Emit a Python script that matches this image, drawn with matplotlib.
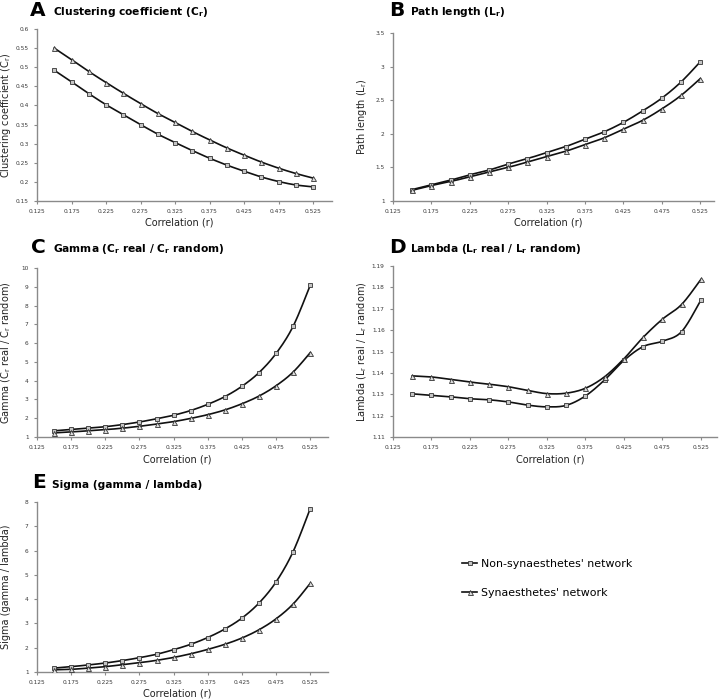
import numpy as np
import matplotlib
matplotlib.use("Agg")
import matplotlib.pyplot as plt
from matplotlib.lines import Line2D

# ---------------- data ----------------
correlation = [0.15, 0.175, 0.2, 0.225, 0.25, 0.275, 0.3, 0.325, 0.35, 0.375,
               0.4, 0.425, 0.45, 0.475, 0.5, 0.525]
tick_labels = ["0.125", "0.175", "0.225", "0.275", "0.325", "0.375", "0.425", "0.475", "0.525"]

clust_non = [0.492, 0.462, 0.431, 0.402, 0.376, 0.350, 0.325, 0.303, 0.282, 0.262,
             0.244, 0.228, 0.213, 0.201, 0.192, 0.187]
clust_syn = [0.550, 0.520, 0.489, 0.460, 0.432, 0.405, 0.379, 0.356, 0.332, 0.310,
             0.289, 0.270, 0.252, 0.236, 0.222, 0.210]

path_non = [1.17, 1.24, 1.31, 1.39, 1.46, 1.55, 1.63, 1.72, 1.81, 1.92,
            2.03, 2.17, 2.34, 2.53, 2.77, 3.07]
path_syn = [1.16, 1.23, 1.29, 1.36, 1.43, 1.50, 1.58, 1.66, 1.74, 1.84,
            1.94, 2.07, 2.20, 2.37, 2.57, 2.82]

gamma_non = [1.33, 1.40, 1.47, 1.55, 1.66, 1.80, 1.97, 2.16, 2.41, 2.74,
             3.15, 3.70, 4.43, 5.45, 6.90, 9.08]
gamma_syn = [1.22, 1.27, 1.33, 1.39, 1.47, 1.57, 1.69, 1.82, 1.99, 2.19,
             2.44, 2.77, 3.18, 3.73, 4.46, 5.49]

lambda_non = [1.1302, 1.1295, 1.1288, 1.1279, 1.1274, 1.1264, 1.1249, 1.1241, 1.1248, 1.1292,
              1.1367, 1.1458, 1.1523, 1.1548, 1.1593, 1.1740]
lambda_syn = [1.1386, 1.1381, 1.1369, 1.1357, 1.1347, 1.1335, 1.1318, 1.1303, 1.1305, 1.1328,
              1.1382, 1.1466, 1.1566, 1.1651, 1.1720, 1.1837]

sigma_non = [1.16, 1.22, 1.29, 1.37, 1.47, 1.59, 1.73, 1.92, 2.14, 2.42,
             2.77, 3.22, 3.84, 4.71, 5.96, 7.73]
sigma_syn = [1.09, 1.11, 1.16, 1.22, 1.30, 1.38, 1.48, 1.60, 1.75, 1.93,
             2.14, 2.40, 2.74, 3.19, 3.80, 4.65]

labels = ["Non-synaesthetes' network", "Synaesthetes' network"]

# ---------------- helpers ----------------
def smooth(x, y, n=24):
    """Excel-like smoothed line (Catmull-Rom Bezier) through the data points."""
    pts = np.column_stack([x, y]).astype(float)
    P = np.vstack([pts[0], pts, pts[-1]])
    out = []
    t = np.linspace(0, 1, n)[:, None]
    for i in range(len(pts) - 1):
        p0, p1, p2, p3 = P[i], P[i + 1], P[i + 2], P[i + 3]
        c1 = p1 + (p2 - p0) / 6.0
        c2 = p2 - (p3 - p1) / 6.0
        seg = ((1 - t) ** 3) * p1 + 3 * ((1 - t) ** 2) * t * c1 + 3 * (1 - t) * t ** 2 * c2 + t ** 3 * p2
        out.append(seg if i == 0 else seg[1:])
    s = np.vstack(out)
    return s[:, 0], s[:, 1]

W, H = 720, 700
fig = plt.figure(figsize=(W / 100, H / 100), dpi=100)

LINE = "#111111"
SPINE = "#8a8a8a"
SQ_FC, TR_FC = "#c4c4c4", "#dddddd"
SQ_MS, TR_MS = 3.4, 3.6

def draw(ax, non, syn):
    for ys, mk, fc, ms in [(non, "s", SQ_FC, SQ_MS), (syn, "^", TR_FC, TR_MS)]:
        sx, sy = smooth(correlation, ys)
        ax.plot(sx, sy, color=LINE, lw=1.2, zorder=2)
        ax.plot(correlation, ys, linestyle="none", marker=mk, ms=ms, mfc=fc,
                mec="#333333", mew=0.6, zorder=3)

panels = [
    dict(box=(37, 332, 29, 201), xmax=0.5525, ylim=(0.15, 0.6),
         yticks=[0.15, 0.2, 0.25, 0.3, 0.35, 0.4, 0.45, 0.5, 0.55, 0.6],
         ylabs=["0.15", "0.2", "0.25", "0.3", "0.35", "0.4", "0.45", "0.5", "0.55", "0.6"],
         data=(clust_non, clust_syn), letter="A",
         title=r"Clustering coefficient (C$_\mathbf{r}$)",
         ylabel=r"Clustering coefficient (C$_\mathregular{r}$)",
         letter_xy=(30, 16), title_xy=(53, 15), xlab_y=223, ylab_x=6),
    dict(box=(393, 714, 33, 201), xmax=0.543, ylim=(1, 3.5),
         yticks=[1, 1.5, 2, 2.5, 3, 3.5],
         ylabs=["1", "1.5", "2", "2.5", "3", "3.5"],
         data=(path_non, path_syn), letter="B",
         title=r"Path length (L$_\mathbf{r}$)",
         ylabel=r"Path length (L$_\mathregular{r}$)",
         letter_xy=(389, 16), title_xy=(410, 15), xlab_y=223, ylab_x=362),
    dict(box=(37, 328, 268, 437), xmax=0.551, ylim=(1, 10),
         yticks=list(range(1, 11)), ylabs=[str(v) for v in range(1, 11)],
         data=(gamma_non, gamma_syn), letter="C",
         title=r"Gamma (C$_\mathbf{r}$ real / C$_\mathbf{r}$ random)",
         ylabel=r"Gamma (C$_\mathregular{r}$ real / C$_\mathregular{r}$ random)",
         letter_xy=(31, 253), title_xy=(53, 252), xlab_y=459, ylab_x=6),
    dict(box=(393, 717, 266, 437), xmax=0.546, ylim=(1.11, 1.19),
         yticks=[1.11, 1.12, 1.13, 1.14, 1.15, 1.16, 1.17, 1.18, 1.19],
         ylabs=["1.11", "1.12", "1.13", "1.14", "1.15", "1.16", "1.17", "1.18", "1.19"],
         data=(lambda_non, lambda_syn), letter="D",
         title=r"Lambda (L$_\mathbf{r}$ real / L$_\mathbf{r}$ random)",
         ylabel=r"Lambda (L$_\mathregular{r}$ real / L$_\mathregular{r}$ random)",
         letter_xy=(389, 253), title_xy=(410, 252), xlab_y=459, ylab_x=362),
    dict(box=(37, 328, 502, 672), xmax=0.551, ylim=(1, 8),
         yticks=list(range(1, 9)), ylabs=[str(v) for v in range(1, 9)],
         data=(sigma_non, sigma_syn), letter="E",
         title="Sigma (gamma / lambda)",
         ylabel="Sigma (gamma / lambda)",
         letter_xy=(32, 488), title_xy=(52, 488), xlab_y=694, ylab_x=6),
]

xticks = [float(v) for v in tick_labels]

for p in panels:
    l, r, t, b = p["box"]
    ax = fig.add_axes([l / W, 1 - b / H, (r - l) / W, (b - t) / H])
    draw(ax, *p["data"])
    ax.set_xlim(0.125, p["xmax"])
    ax.set_ylim(*p["ylim"])
    ax.set_xticks(xticks)
    ax.set_xticklabels(tick_labels)
    ax.set_yticks(p["yticks"])
    ax.set_yticklabels(p["ylabs"])
    for s in ["top", "right"]:
        ax.spines[s].set_visible(False)
    for s in ["left", "bottom"]:
        ax.spines[s].set_color(SPINE)
        ax.spines[s].set_linewidth(1.0)
    ax.tick_params(axis="both", direction="out", length=2.5, width=0.8, color=SPINE,
                   labelsize=4.2, labelcolor="#3a3a3a", pad=3.5)
    ax.patch.set_alpha(0)
    lx, ly = p["letter_xy"]
    fig.text(lx / W, 1 - ly / H, p["letter"], fontsize=14.5, fontweight="bold",
             ha="left", va="baseline")
    tx, ty = p["title_xy"]
    fig.text(tx / W, 1 - ty / H, p["title"], fontsize=7.7, fontweight="bold",
             ha="left", va="baseline")
    fig.text(((l + r) / 2 - 5) / W, 1 - p["xlab_y"] / H, "Correlation (r)", fontsize=7,
             ha="center", va="center", color="#222222")
    fig.text(p["ylab_x"] / W, 1 - ((t + b) / 2) / H, p["ylabel"], fontsize=7,
             rotation=90, ha="center", va="center", color="#222222")

handles = [
    Line2D([], [], color=LINE, lw=1.2, marker="s", ms=SQ_MS, mfc=SQ_FC, mec="#333333", mew=0.6),
    Line2D([], [], color=LINE, lw=1.2, marker="^", ms=TR_MS, mfc=TR_FC, mec="#333333", mew=0.6),
]
fig.legend(handles, labels, loc="upper left", bbox_to_anchor=(462 / W, 1 - 559 / H),
           frameon=False, fontsize=7.9, handlelength=1.4, handletextpad=0.3,
           labelspacing=1.75, borderpad=0, borderaxespad=0)

fig.savefig("out.png", dpi=100)
